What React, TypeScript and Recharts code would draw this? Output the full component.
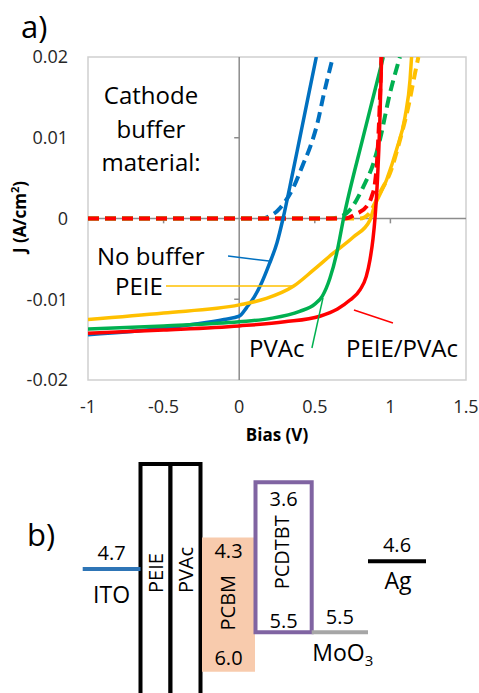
import React from 'react';
import { LineChart, ComposedChart, Line, XAxis, YAxis, ReferenceLine, ReferenceArea } from 'recharts';

// ---------- Panel a) data : bias (V), current density J (A/cm2) ----------
const biasTicks = [-1, -0.5, 0, 0.5, 1, 1.5];
const currentTicks = [-0.02, -0.01, 0, 0.01, 0.02];

const seriesNames = ['No buffer', 'PEIE', 'PVAc', 'PEIE/PVAc'];

// illuminated (solid)
const noBufferLight = [[-1, -0.0144], [-0.5, -0.0136], [-0.3, -0.0131], [-0.1, -0.0125], [0, -0.0121], [0.05, -0.0110], [0.1, -0.0097], [0.15, -0.0079], [0.2, -0.0056], [0.25, -0.0030], [0.29, 0], [0.35, 0.0053], [0.4, 0.0099], [0.45, 0.0145], [0.51, 0.02]];
const peieLight = [[-1, -0.0125], [-0.5, -0.0117], [0, -0.0107], [0.18, -0.0099], [0.358, -0.0084], [0.49, -0.0064], [0.622, -0.0043], [0.755, -0.0023], [0.865, -0.0002], [0.887, 0.0011], [0.975, 0.0048], [1.04, 0.0085], [1.097, 0.0126], [1.13, 0.0172], [1.14, 0.02]];
const pvacLight = [[-1, -0.0137], [-0.5, -0.0133], [0, -0.0128], [0.2, -0.0124], [0.4, -0.0115], [0.5, -0.0106], [0.55, -0.0096], [0.6, -0.0074], [0.645, -0.0043], [0.69, 0], [0.82, 0.0101], [0.953, 0.02]];
const peiePvacLight = [[-1, -0.0142], [-0.5, -0.0138], [0, -0.0133], [0.3, -0.0128], [0.534, -0.0121], [0.65, -0.0112], [0.733, -0.0101], [0.8, -0.0088], [0.84, -0.0072], [0.865, -0.0051], [0.885, -0.0025], [0.898, 0], [0.915, 0.005], [0.93, 0.012], [0.942, 0.02]];

// dark (dashed)
const noBufferDark = [[-1, 0], [0.15, 0], [0.2, 0.0003], [0.25, 0.0009], [0.3, 0.0020], [0.36, 0.0039], [0.42, 0.0066], [0.47, 0.0089], [0.52, 0.0120], [0.556, 0.0151], [0.62, 0.02]];
const peieDark = [[-1, 0], [0.8, 0], [0.86, 0.0006], [0.887, 0.0015], [0.94, 0.0035], [0.997, 0.0056], [1.063, 0.0097], [1.118, 0.0138], [1.163, 0.018], [1.185, 0.02]];
const pvacDark = [[-1, 0], [0.6, 0], [0.667, 0.0002], [0.73, 0.001], [0.82, 0.0039], [0.887, 0.0068], [0.93, 0.0097], [0.997, 0.0155], [1.063, 0.02]];
const peiePvacDark = [[-1, 0], [0.7, 0], [0.777, 0.0006], [0.843, 0.0015], [0.876, 0.0027], [0.898, 0.0044], [0.909, 0.0064], [0.925, 0.012], [0.94, 0.02]];

// ---------- Panel b) data : energy levels (eV) ----------
const electrodeNames = ['ITO', 'MoO3', 'Ag'];
const electrodeLevels = [4.7, 5.5, 4.6];
const bufferNames = ['PEIE', 'PVAc'];
const semiNames = ['PCBM', 'PCDTBT'];
const semiLumo = [4.3, 3.6];
const semiHomo = [6.0, 5.5];

// ---------- styles / layout ----------
const FONT = '"Open Sans", sans-serif';
const colors = ['#0070C0', '#FFC000', '#00B050', '#FF0000'];
const lightSeries = [noBufferLight, peieLight, pvacLight, peiePvacLight];
const darkSeries = [noBufferDark, peieDark, pvacDark, peiePvacDark];
const toPts = (a: number[][]) => a.map(([v, j]) => ({ v, j }));

// leader lines (data coords) for labels: No buffer, PEIE, PVAc, PEIE/PVAc
const leaders = [
  [[-0.074, -0.00464], [0.197, -0.00526]],
  [[-0.484, -0.00836], [0.349, -0.00836]],
  [[0.481, -0.01604], [0.554, -0.00984]],
  [[0.759, -0.01133], [1.017, -0.01294]],
];

// diagram column spans (px)
const colX: Record<string, [number, number]> = {
  ITO: [82.7, 140.5], PEIE: [140.5, 170.5], PVAc: [170.5, 200.5], PCBM: [202, 255],
  PCDTBT: [255.5, 311.7], MoO3: [311.7, 368], Ag: [368, 426],
};
const electrodeColors = ['#2E75B6', '#A6A6A6', '#000000'];
const E_TOP = 3.1924;
const E_BOT = 6.2684;

const txt = { fontFamily: FONT, fill: '#000' } as const;

function electrodeLabel(value: string, name: string, belowOff: number, nameDx: number) {
  return (props: any) => {
    const vb = props.viewBox || {};
    const cx = vb.x + vb.width / 2;
    const y = vb.y;
    return (
      <g>
        <text x={cx} y={y - 15.7} dy="0.35em" textAnchor="middle" fontSize={20} {...txt}>{value}</text>
        <text x={cx + nameDx} y={y + belowOff} dy="0.35em" textAnchor="middle" fontSize={23} {...txt}>
          {name === 'MoO3' ? (<><tspan>MoO</tspan><tspan fontSize={15} dy="0.3em">3</tspan></>) : name}
        </text>
      </g>
    );
  };
}

function bufferLabel(name: string, dx: number, dy: number) {
  return (props: any) => {
    const vb = props.viewBox || {};
    const cx = vb.x + vb.width / 2 + dx;
    const cy = vb.y + dy;
    return (
      <text x={cx} y={cy} dy="0.35em" textAnchor="middle" fontSize={20} transform={`rotate(-90, ${cx}, ${cy})`} {...txt}>{name}</text>
    );
  };
}

function semiLabel(name: string, lumo: number, homo: number, topOff: number, botOff: number, nameDx: number, nameDy: number) {
  return (props: any) => {
    const vb = props.viewBox || {};
    const cx = vb.x + vb.width / 2;
    const top = vb.y;
    const bot = vb.y + vb.height;
    const mx = cx + nameDx;
    const my = (top + bot) / 2 + nameDy;
    return (
      <g>
        <text x={cx} y={top + topOff} dy="0.35em" textAnchor="middle" fontSize={20} {...txt}>{lumo.toFixed(1)}</text>
        <text x={mx} y={my} dy="0.35em" textAnchor="middle" fontSize={20} transform={`rotate(-90, ${mx}, ${my})`} {...txt}>{name}</text>
        <text x={cx} y={bot - botOff} dy="0.35em" textAnchor="middle" fontSize={20} {...txt}>{homo.toFixed(1)}</text>
      </g>
    );
  };
}

export default function App() {
  const labelPos = [
    { x: 97, y: 265 },
    { x: 115, y: 295 },
    { x: 249, y: 357 },
    { x: 346, y: 357 },
  ];
  const electrodeOpts = [
    { below: 26, dx: 0 },
    { below: 20.7, dx: 3 },
    { below: 19.3, dx: 1 },
  ];
  return (
    <div style={{ position: 'absolute', left: 0, top: 0, width: 479, height: 693, background: '#fff', overflow: 'hidden' }}>
      <div style={{ position: 'absolute', left: 0, top: 0 }}>
        <LineChart width={479} height={450} margin={{ top: 57, right: 13, bottom: 0, left: 28 }}>
          <XAxis dataKey="v" type="number" domain={[-1, 1.5]} ticks={biasTicks} interval={0} allowDataOverflow
            axisLine={false} tickLine={false} tickSize={0} tickMargin={20} height={70}
            tick={{ fontSize: 18, fill: '#262626', fontFamily: FONT }} tickFormatter={(t: number) => String(t)} />
          <YAxis type="number" domain={[-0.02, 0.02]} ticks={currentTicks} interval={0} allowDataOverflow
            axisLine={false} tickLine={false} tickSize={0} tickMargin={20} width={60}
            tick={{ fontSize: 18, fill: '#262626', fontFamily: FONT }} tickFormatter={(t: number) => String(t)} />
          <ReferenceArea x1={-1} x2={1.5} y1={-0.02} y2={0.02} fill="none" stroke="#D0D0D0" strokeWidth={1.5} ifOverflow="visible" />
          <ReferenceLine x={0} stroke="#8C8C8C" strokeWidth={1.5} />
          <ReferenceLine y={0} stroke="#8C8C8C" strokeWidth={1.5} />
          {biasTicks.filter((t) => t !== -1 && t !== 0 && t !== 1.5).map((t) => (
            <ReferenceLine key={'xt' + t} segment={[{ x: t, y: 0 }, { x: t, y: -0.0006 }]} stroke="#8C8C8C" strokeWidth={1.5} />
          ))}
          {currentTicks.filter((t) => t !== 0 && Math.abs(t) !== 0.02).map((t) => (
            <ReferenceLine key={'yt' + t} segment={[{ x: 0, y: t }, { x: -0.033, y: t }]} stroke="#8C8C8C" strokeWidth={1.5} />
          ))}
          {[0, 2, 1, 3].map((i) => (
            <Line key={'d' + i} data={toPts(darkSeries[i])} dataKey="j" type="monotone" stroke={colors[i]} strokeWidth={4}
              strokeDasharray="11 6" dot={false} activeDot={false} isAnimationActive={false} />
          ))}
          {[0, 1, 2, 3].map((i) => (
            <Line key={'l' + i} data={toPts(lightSeries[i])} dataKey="j" type="monotone" stroke={colors[i]} strokeWidth={3.5}
              dot={false} activeDot={false} isAnimationActive={false} />
          ))}
          {leaders.map((seg, i) => (
            <ReferenceLine key={'ld' + i} segment={[{ x: seg[0][0], y: seg[0][1] }, { x: seg[1][0], y: seg[1][1] }]}
              stroke={colors[i]} strokeWidth={1.5} ifOverflow="visible" />
          ))}
        </LineChart>
      </div>

      <div style={{ position: 'absolute', left: 0, top: 450 }}>
        <ComposedChart width={479} height={243} margin={{ top: 0, right: 0, bottom: 0, left: 0 }} data={[{ x: 0, e: 4 }]}>
          <XAxis dataKey="x" type="number" domain={[0, 479]} hide allowDataOverflow />
          <YAxis type="number" domain={[E_TOP, E_BOT]} reversed hide allowDataOverflow width={0} />
          {bufferNames.map((n, i) => (
            <ReferenceArea key={n} x1={colX[n][0]} x2={colX[n][1]} y1={3.37} y2={6.8} fill="#fff" fillOpacity={1}
              stroke="#000" strokeWidth={4} ifOverflow="hidden"
              label={bufferLabel(n, 1, i === 0 ? 109 : 106)} />
          ))}
          <ReferenceArea x1={colX.PCBM[0]} x2={colX.PCBM[1]} y1={semiLumo[0]} y2={semiHomo[0]} fill="#F8CBAD" fillOpacity={1}
            stroke="none" ifOverflow="visible"
            label={semiLabel(semiNames[0], semiLumo[0], semiHomo[0], 14, 14, 0, -2)} />
          <ReferenceArea x1={colX.PCDTBT[0]} x2={colX.PCDTBT[1]} y1={semiLumo[1]} y2={semiHomo[1]} fill="#fff" fillOpacity={1}
            stroke="#8064A2" strokeWidth={4} ifOverflow="visible"
            label={semiLabel(semiNames[1], semiLumo[1], semiHomo[1], 17, 11, -2, -5)} />
          {electrodeNames.map((n, i) => (
            <ReferenceLine key={n} segment={[{ x: colX[n][0], y: electrodeLevels[i] }, { x: colX[n][1], y: electrodeLevels[i] }]}
              stroke={electrodeColors[i]} strokeWidth={4} ifOverflow="visible"
              label={electrodeLabel(electrodeLevels[i].toFixed(1), n, electrodeOpts[i].below, electrodeOpts[i].dx)} />
          ))}
        </ComposedChart>
      </div>

      <svg width={479} height={693} style={{ position: 'absolute', left: 0, top: 0, pointerEvents: 'none' }}>
        <text x={21} y={38} fontSize={31} {...txt}>a)</text>
        <text x={27} y={546} fontSize={31} {...txt}>b)</text>
        <text x={151} y={104} textAnchor="middle" fontSize={24} {...txt}>Cathode</text>
        <text x={151} y={137.5} textAnchor="middle" fontSize={24} {...txt}>buffer</text>
        <text x={151} y={171} textAnchor="middle" fontSize={24} {...txt}>material:</text>
        {seriesNames.map((n, i) => (
          <text key={n} x={labelPos[i].x} y={labelPos[i].y} fontSize={24} {...txt}>{n}</text>
        ))}
        <text x={277} y={441} textAnchor="middle" fontSize={17} fontWeight="bold" {...txt}>Bias (V)</text>
        <text x={20} y={217} dy="0.35em" textAnchor="middle" fontSize={17} fontWeight="bold" transform="rotate(-90, 20, 217)" {...txt}>
          J (A/cm<tspan fontSize={11} dy="-0.6em">2</tspan><tspan dy="0.4em">)</tspan>
        </text>
      </svg>
    </div>
  );
}
